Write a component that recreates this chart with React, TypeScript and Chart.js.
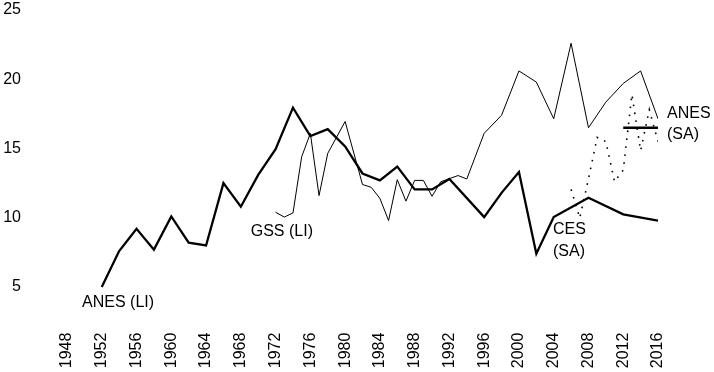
import React, { useEffect, useRef } from "react";
import { Chart, registerables } from "chart.js";

Chart.register(...registerables);

// ---- Data ----
const xTickYears = [1948, 1952, 1956, 1960, 1964, 1968, 1972, 1976, 1980, 1984, 1988, 1992, 1996, 2000, 2004, 2008, 2012, 2016];
const yTickValues = [5, 10, 15, 20, 25];

const anesLiYears = [1952, 1954, 1956, 1958, 1960, 1962, 1964, 1966, 1968, 1970, 1972, 1974, 1976, 1978, 1980, 1982, 1984, 1986, 1988, 1990, 1992, 1996, 1998, 2000, 2002, 2004, 2008, 2012, 2016];
const anesLiValues = [5.0, 7.6, 9.2, 7.7, 10.1, 8.2, 8.0, 12.5, 10.8, 13.1, 14.95, 17.95, 15.9, 16.4, 15.15, 13.2, 12.7, 13.7, 12.05, 12.05, 12.8, 10.05, 11.8, 13.3, 7.4, 10.05, 11.45, 10.25, 9.8];

const gssLiYears = [1972, 1973, 1974, 1975, 1976, 1977, 1978, 1980, 1982, 1983, 1984, 1985, 1986, 1987, 1988, 1989, 1990, 1991, 1993, 1994, 1996, 1998, 2000, 2002, 2004, 2006, 2008, 2010, 2012, 2014, 2016];
const gssLiValues = [10.4, 10.05, 10.35, 14.4, 16.1, 11.6, 14.65, 16.95, 12.4, 12.2, 11.4, 9.8, 12.75, 11.2, 12.7, 12.7, 11.55, 12.6, 13.05, 12.8, 16.1, 17.4, 20.6, 19.8, 17.15, 22.6, 16.5, 18.35, 19.7, 20.6, 17.15];

const cesSaYears = [2006, 2007, 2008, 2009, 2010, 2011, 2012, 2013, 2014, 2015, 2016];
const cesSaValues = [12.05, 9.98, 12.8, 15.8, 15.5, 12.6, 13.45, 18.9, 14.85, 17.8, 15.5];

const anesSaYears = [2012, 2016];
const anesSaValues = [16.5, 16.5];

// Series labels, anchored in data units (year, value per line)
const seriesLabels = [
  { lines: ["ANES (LI)"], year: 1949.73, values: [3.87] },
  { lines: ["GSS (LI)"], year: 1969.14, values: [8.99] },
  { lines: ["CES", "(SA)"], year: 2003.92, values: [9.12, 7.55] },
  { lines: ["ANES", "(SA)"], year: 2017.04, values: [17.49, 15.97] },
];

const FONT = "'Liberation Sans', Arial, Helvetica, sans-serif";

const toPoints = (xs: number[], ys: number[]) => xs.map((x, i) => ({ x, y: ys[i] }));

export default function App() {
  const ref = useRef<HTMLCanvasElement>(null);

  useEffect(() => {
    if (!ref.current) return;
    const labelPlugin = {
      id: "seriesLabels",
      afterDatasetsDraw(chart: any) {
        const { ctx, scales } = chart;
        const xs = scales.x;
        const ys = scales.y;
        ctx.save();
        ctx.fillStyle = "#000";
        ctx.font = `16px ${FONT}`;
        ctx.textAlign = "left";
        ctx.textBaseline = "middle";
        seriesLabels.forEach((a) => {
          const px = xs.getPixelForValue(a.year);
          a.lines.forEach((line, i) => {
            ctx.fillText(line, px, ys.getPixelForValue(a.values[i]));
          });
        });
        ctx.restore();
      },
    };

    const chart = new Chart(ref.current, {
      type: "line",
      data: {
        datasets: [
          {
            label: "ANES (LI)",
            data: toPoints(anesLiYears, anesLiValues),
            borderColor: "#000",
            borderWidth: 2.3,
            pointRadius: 0,
            tension: 0,
          },
          {
            label: "GSS (LI)",
            data: toPoints(gssLiYears, gssLiValues),
            borderColor: "#000",
            borderWidth: 1,
            pointRadius: 0,
            tension: 0,
          },
          {
            label: "CES (SA)",
            data: toPoints(cesSaYears, cesSaValues),
            borderColor: "#000",
            borderWidth: 1.6,
            borderDash: [1.6, 6.4],
            pointRadius: 0,
            tension: 0,
          },
          {
            label: "ANES (SA)",
            data: toPoints(anesSaYears, anesSaValues),
            borderColor: "#000",
            borderWidth: 2.3,
            pointRadius: 0,
            tension: 0,
          },
        ],
      },
      options: {
        animation: false,
        responsive: true,
        maintainAspectRatio: false,
        layout: { padding: { left: 0, right: 56, top: 10, bottom: 0 } },
        plugins: {
          legend: { display: false },
          tooltip: { enabled: false },
        },
        scales: {
          x: {
            type: "linear",
            min: xTickYears[0],
            max: xTickYears[xTickYears.length - 1],
            afterBuildTicks: (s: any) => {
              s.ticks = xTickYears.map((v) => ({ value: v }));
            },
            afterFit: (s: any) => {
              s.height = 43.4;
            },
            grid: { display: false, drawTicks: false, tickLength: 0 },
            border: { display: false },
            ticks: {
              autoSkip: false,
              maxRotation: 90,
              minRotation: 90,
              padding: 4,
              color: "#000",
              font: { family: FONT, size: 16 },
              callback: (v: any) => String(v),
            },
          },
          y: {
            type: "linear",
            min: 2,
            max: 25,
            afterBuildTicks: (s: any) => {
              s.ticks = yTickValues.map((v) => ({ value: v }));
            },
            afterFit: (s: any) => {
              s.width = 67;
              s.paddingTop = 0;
              s.paddingBottom = 0;
            },
            grid: { display: false, drawTicks: false, tickLength: 0 },
            border: { display: false },
            ticks: {
              padding: 46,
              color: "#000",
              font: { family: FONT, size: 16 },
              callback: (v: any) => String(v),
            },
          },
        },
      },
      plugins: [labelPlugin],
    });
    return () => chart.destroy();
  }, []);

  return (
    <div style={{ position: "absolute", left: 0, top: 0, width: 714, height: 372, background: "#fff" }}>
      <canvas ref={ref} />
    </div>
  );
}
